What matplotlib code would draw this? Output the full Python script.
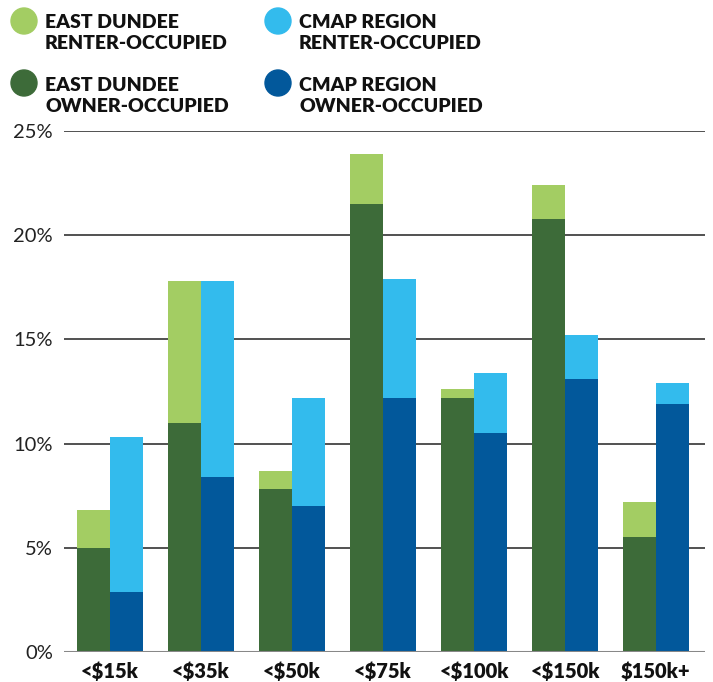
import matplotlib
matplotlib.use("Agg")
import matplotlib.pyplot as plt
from matplotlib.patches import Circle
import numpy as np

categories = ["<$15k", "<$35k", "<$50k", "<$75k", "<$100k", "<$150k", "$150k+"]
ed_owner = [5.0, 11.0, 7.8, 21.5, 12.2, 20.8, 5.5]
ed_renter = [1.8, 6.8, 0.9, 2.4, 0.4, 1.6, 1.7]
cmap_owner = [2.9, 8.4, 7.0, 12.2, 10.5, 13.1, 11.9]
cmap_renter = [7.4, 9.4, 5.2, 5.7, 2.9, 2.1, 1.0]
yticks = [0, 5, 10, 15, 20, 25]
ytick_labels = ["0%", "5%", "10%", "15%", "20%", "25%"]

C_ED_R = "#a3cd63"
C_ED_O = "#3d6b39"
C_CM_R = "#33bbed"
C_CM_O = "#02589b"

W, H = 713, 682
fig = plt.figure(figsize=(W / 100, H / 100), dpi=100)
ax = fig.add_axes([64 / W, 1 - 652 / H, (705 - 64) / W, (652 - 131) / H])

x = np.arange(len(categories))
bw = 0.363
ax.bar(x - bw / 2, ed_owner, bw, color=C_ED_O, zorder=3)
ax.bar(x - bw / 2, ed_renter, bw, bottom=ed_owner, color=C_ED_R, zorder=3)
ax.bar(x + bw / 2, cmap_owner, bw, color=C_CM_O, zorder=3)
ax.bar(x + bw / 2, cmap_renter, bw, bottom=cmap_owner, color=C_CM_R, zorder=3)

ax.set_xlim(-0.505, 6.54)
ax.set_ylim(0, 25)
ax.set_yticks(yticks)
ax.set_yticklabels(ytick_labels, fontfamily="Lato", fontsize=14.5, color="#222222")
ax.set_xticks(x)
ax.set_xticklabels(categories, fontfamily="Lato", fontweight="heavy", fontsize=14.5, color="#111111")
ax.tick_params(axis="both", length=0)
ax.tick_params(axis="y", pad=8)
ax.tick_params(axis="x", pad=7)
for s in ["top", "right", "left", "bottom"]:
    ax.spines[s].set_visible(False)
for yv in yticks[1:]:
    ax.axhline(yv, color="#333333", linewidth=1.2, zorder=1)
ax.axhline(0, color="#888888", linewidth=2.2, zorder=4)

# legend overlay in pixel coordinates
lax = fig.add_axes([0, 0, 1, 1], zorder=5)
lax.set_xlim(0, W)
lax.set_ylim(H, 0)
lax.axis("off")
legend_items = [
    (24, 21, C_ED_R, ["EAST DUNDEE", "RENTER-OCCUPIED"], (28, 49)),
    (278, 21, C_CM_R, ["CMAP REGION", "RENTER-OCCUPIED"], (28, 49)),
    (24, 83, C_ED_O, ["EAST DUNDEE", "OWNER-OCCUPIED"], (91, 112)),
    (278, 83, C_CM_O, ["CMAP REGION", "OWNER-OCCUPIED"], (91, 112)),
]
for cx, cy, col, lines, bases in legend_items:
    lax.add_patch(Circle((cx, cy), 13, color=col))
    for line, by in zip(lines, bases):
        lax.text(cx + 21, by, line, fontfamily="Lato", fontweight="heavy",
                 fontsize=14, color="#111111", va="baseline", ha="left")

fig.savefig("out.png", dpi=100)
